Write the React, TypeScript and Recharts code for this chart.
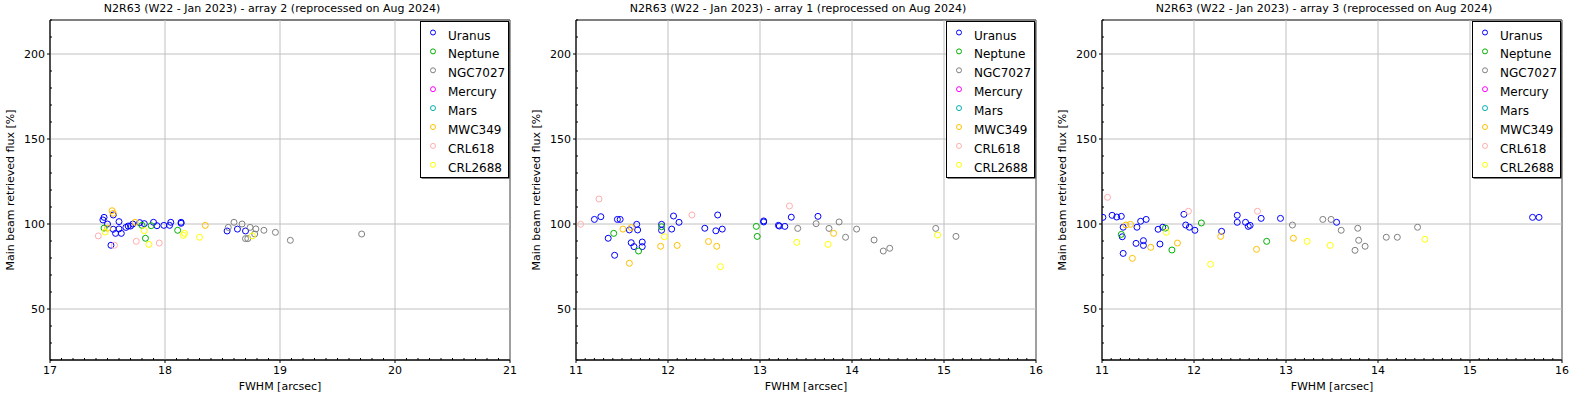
import React from 'react';
import { ScatterChart, Scatter, XAxis, YAxis, ReferenceLine, ReferenceArea } from 'recharts';

type P = [number, number];

const FONT = '"DejaVu Sans", Verdana, sans-serif';

const sourceNames = ['Uranus', 'Neptune', 'NGC7027', 'Mercury', 'Mars', 'MWC349', 'CRL618', 'CRL2688'];
const sourceColors = ['#0000ff', '#00b000', '#808080', '#ff00ff', '#00b0b0', '#ffc000', '#ffafaf', '#ffff00'];

const panelTitles = [
  'N2R63 (W22 - Jan 2023) - array 2 (reprocessed on Aug 2024)',
  'N2R63 (W22 - Jan 2023) - array 1 (reprocessed on Aug 2024)',
  'N2R63 (W22 - Jan 2023) - array 3 (reprocessed on Aug 2024)',
];

const xMajorA2 = [17, 18, 19, 20, 21];
const xMajorA1 = [11, 12, 13, 14, 15, 16];
const xMajorA3 = [11, 12, 13, 14, 15, 16];
const yMajor = [50, 100, 150, 200];
const yDomain: [number, number] = [20, 220];
const xLabel = 'FWHM [arcsec]';
const yLabel = 'Main beam retrieved flux [%]';

// ---- array 2 ----
const a2Uranus: P[] = [
  [17.47, 103.9], [17.46, 102.4], [17.55, 105.3], [17.5, 100.0], [17.6, 101.4], [17.55, 96.9],
  [17.57, 94.5], [17.6, 97.1], [17.62, 94.5], [17.66, 98.0], [17.68, 98.8], [17.7, 98.8],
  [17.72, 100.0], [17.78, 100.8], [17.82, 100.2], [17.9, 101.0], [17.93, 99.0], [17.99, 99.2],
  [18.04, 99.2], [18.05, 101.0], [18.14, 101.0], [18.14, 100.4], [18.54, 95.9], [18.63, 97.0],
  [18.7, 95.9], [17.53, 87.5],
];
const a2Neptune: P[] = [[17.47, 97.6], [17.8, 99.2], [17.88, 99.0], [18.11, 96.3], [17.83, 91.6]];
const a2NGC7027: P[] = [
  [18.55, 98.0], [18.6, 101.0], [18.67, 100.0], [18.74, 98.0], [18.79, 97.1], [18.86, 96.3],
  [18.96, 95.1], [19.09, 90.4], [18.7, 91.4], [18.72, 91.4], [18.78, 94.1], [19.71, 94.1],
];
const a2MWC349: P[] = [[17.54, 107.8], [17.55, 106.3], [17.74, 101.0], [18.35, 99.2], [17.5, 97.5]];
const a2CRL618: P[] = [[17.42, 93.0], [17.75, 89.8], [17.95, 88.8], [17.56, 87.5]];
const a2CRL2688: P[] = [
  [17.48, 95.3], [17.82, 96.1], [17.86, 88.0], [18.17, 94.5], [18.16, 93.3], [18.3, 92.2], [18.76, 93.0],
];

// ---- array 1 ----
const a1Uranus: P[] = [
  [11.2, 102.7], [11.27, 104.3], [11.35, 91.6], [11.42, 81.6], [11.45, 102.7], [11.48, 102.7],
  [11.58, 96.5], [11.6, 89.0], [11.63, 86.7], [11.66, 99.8], [11.67, 96.5], [11.72, 86.7],
  [11.72, 89.4], [11.93, 99.8], [11.93, 96.3], [12.04, 97.0], [12.06, 104.7], [12.12, 101.0],
  [12.4, 97.5], [12.52, 96.0], [12.54, 105.3], [12.59, 97.0], [13.04, 101.8], [13.04, 101.2],
  [13.2, 99.2], [13.21, 98.8], [13.27, 98.6], [13.34, 104.0], [13.63, 104.5],
];
const a1Neptune: P[] = [[11.41, 94.5], [11.68, 84.1], [11.93, 98.4], [12.96, 98.6], [12.97, 92.7]];
const a1NGC7027: P[] = [
  [13.41, 97.4], [13.61, 100.2], [13.75, 97.4], [13.86, 101.2], [13.93, 92.2], [14.05, 97.0],
  [14.24, 90.6], [14.34, 84.1], [14.41, 85.7], [14.91, 97.4], [15.13, 92.7],
];
const a1MWC349: P[] = [
  [11.51, 97.0], [11.58, 76.9], [11.6, 97.9], [11.92, 86.9], [12.1, 87.4], [12.44, 89.7],
  [12.53, 86.9], [13.8, 94.5],
];
const a1CRL618: P[] = [[11.05, 99.8], [11.25, 114.7], [12.26, 105.3], [13.32, 110.6]];
const a1CRL2688: P[] = [[11.96, 92.5], [12.57, 74.9], [13.4, 89.2], [13.74, 88.0], [14.93, 93.5]];

// ---- array 3 ----
const a3Uranus: P[] = [
  [11.01, 103.9], [11.11, 105.1], [11.16, 104.1], [11.21, 104.5], [11.23, 98.1], [11.22, 92.5],
  [11.23, 82.7], [11.37, 88.6], [11.38, 98.1], [11.42, 101.6], [11.45, 90.2], [11.45, 87.4],
  [11.48, 102.7], [11.61, 96.9], [11.63, 88.2], [11.66, 98.1], [11.89, 105.7], [11.91, 99.4],
  [11.95, 98.1], [12.01, 96.3], [12.3, 95.7], [12.47, 105.1], [12.47, 101.0], [12.56, 101.0],
  [12.59, 98.6], [12.61, 99.2], [12.73, 103.3], [12.94, 103.3], [13.55, 101.0], [15.68, 103.9],
  [15.75, 103.9],
];
const a3Neptune: P[] = [[11.21, 93.9], [11.69, 97.6], [11.76, 84.7], [12.08, 100.6], [12.79, 89.8]];
const a3NGC7027: P[] = [
  [13.07, 99.4], [13.4, 102.7], [13.49, 102.7], [13.6, 96.3], [13.78, 97.5], [13.79, 90.4],
  [13.75, 84.5], [13.86, 86.9], [14.09, 92.2], [14.21, 92.2], [14.43, 98.1],
];
const a3MWC349: P[] = [
  [11.26, 99.4], [11.31, 99.8], [11.33, 79.8], [11.53, 86.3], [11.82, 88.8], [12.29, 92.7],
  [12.68, 85.1], [13.08, 91.6],
];
const a3CRL618: P[] = [[11.06, 115.7], [11.94, 107.5], [12.69, 107.5]];
const a3CRL2688: P[] = [[11.7, 95.1], [12.18, 76.3], [13.23, 89.8], [13.48, 87.4], [14.51, 91.0]];

const panelSeries: P[][][] = [
  [a2Uranus, a2Neptune, a2NGC7027, [], [], a2MWC349, a2CRL618, a2CRL2688],
  [a1Uranus, a1Neptune, a1NGC7027, [], [], a1MWC349, a1CRL618, a1CRL2688],
  [a3Uranus, a3Neptune, a3NGC7027, [], [], a3MWC349, a3CRL618, a3CRL2688],
];
const panelXMajor = [xMajorA2, xMajorA1, xMajorA3];

const PANEL_W = 526;
const PANEL_H = 400;

function minorTicks(lo: number, hi: number, step: number): number[] {
  const n = Math.round((hi - lo) / step);
  const out: number[] = [];
  for (let i = 0; i <= n; i++) out.push(Math.round((lo + i * step) * 1000) / 1000);
  return out;
}

function isMajor(v: number, majors: number[]) {
  return majors.some((m) => Math.abs(m - v) < 1e-6);
}

const makeXTick = (majors: number[]) => (props: any) => {
  const { x, y, payload } = props;
  const v = payload.value;
  const maj = isMajor(v, majors);
  return (
    <g>
      <line x1={x} x2={x} y1={y} y2={maj ? y + 3 : y - 2} stroke="#000" strokeWidth={1} />
      {maj && (
        <text x={x} y={y + 14} textAnchor="middle" fontSize={11} fontFamily={FONT} fill="#000">
          {v}
        </text>
      )}
    </g>
  );
};

const YTick = (props: any) => {
  const { x, y, payload } = props;
  const v = payload.value;
  const maj = isMajor(v, yMajor);
  return (
    <g>
      <line x1={maj ? x - 3 : x} x2={maj ? x : x + 2} y1={y} y2={y} stroke="#000" strokeWidth={1} />
      {maj && (
        <text x={x - 5} y={y + 4} textAnchor="end" fontSize={11} fontFamily={FONT} fill="#000">
          {v}
        </text>
      )}
    </g>
  );
};

const circleShape = (color: string) => (props: any) => {
  const { cx, cy } = props;
  if (cx == null || cy == null) return <g />;
  return <circle cx={cx} cy={cy} r={3} fill="none" stroke={color} strokeWidth={1} />;
};

const XLabelContent = (props: any) => {
  const vb = props.viewBox || {};
  return (
    <text x={vb.x + vb.width / 2} y={vb.y + 30} textAnchor="middle" fontSize={11} fontFamily={FONT} fill="#000">
      {xLabel}
    </text>
  );
};

const YLabelContent = (props: any) => {
  const vb = props.viewBox || {};
  const cx = 10;
  const cy = vb.y + vb.height / 2;
  return (
    <text
      x={cx}
      y={cy}
      transform={`rotate(-90, ${cx}, ${cy})`}
      textAnchor="middle"
      dominantBaseline="central"
      fontSize={11}
      fontFamily={FONT}
      fill="#000"
    >
      {yLabel}
    </text>
  );
};

function Legend() {
  const rowH = 18.9;
  return (
    <svg
      width={92}
      height={160}
      style={{ position: 'absolute', left: 420, top: 21, overflow: 'visible' }}
    >
      <rect x={1.5} y={1.5} width={88} height={156} fill="#000" />
      <rect x={0.5} y={0.5} width={88} height={156} fill="#fff" stroke="#000" strokeWidth={1} />
      {sourceNames.map((n, i) => (
        <g key={n}>
          <circle cx={13} cy={11.5 + i * rowH} r={2.5} fill="none" stroke={sourceColors[i]} strokeWidth={1} />
          <text x={28} y={14.5 + i * rowH} dominantBaseline="central" fontSize={12} fontFamily={FONT} fill="#000">
            {n}
          </text>
        </g>
      ))}
    </svg>
  );
}

function Panel({ idx }: { idx: number }) {
  const majors = panelXMajor[idx];
  const xd: [number, number] = [majors[0], majors[majors.length - 1]];
  const xTicks = minorTicks(xd[0], xd[1], 0.1);
  const yTicks = minorTicks(yDomain[0], yDomain[1], 10);
  const series = panelSeries[idx];
  return (
    <div style={{ position: 'relative', width: PANEL_W, height: PANEL_H }}>
      <div
        style={{
          position: 'absolute',
          left: 18,
          top: 2,
          width: PANEL_W - 18,
          textAlign: 'center',
          fontSize: 11,
          fontFamily: FONT,
          lineHeight: '14px',
          color: '#000',
          whiteSpace: 'nowrap',
        }}
      >
        {panelTitles[idx]}
      </div>
      <ScatterChart width={PANEL_W} height={PANEL_H} margin={{ top: 20, right: 16, bottom: 0, left: 0 }}>
        {majors.map((v) => (
          <ReferenceLine key={'gx' + v} x={v} stroke="#c0c0c0" strokeWidth={1} />
        ))}
        {yMajor.map((v) => (
          <ReferenceLine key={'gy' + v} y={v} stroke="#c0c0c0" strokeWidth={1} />
        ))}
        <XAxis
          type="number"
          dataKey="x"
          domain={xd}
          ticks={xTicks}
          interval={0}
          tickLine={false}
          tickSize={0}
          tickMargin={0}
          height={40}
          axisLine={{ stroke: '#000' }}
          tick={makeXTick(majors)}
          label={<XLabelContent />}
          allowDataOverflow
        />
        <YAxis
          type="number"
          dataKey="y"
          domain={yDomain}
          ticks={yTicks}
          interval={0}
          tickLine={false}
          tickSize={0}
          tickMargin={0}
          width={50}
          axisLine={{ stroke: '#000' }}
          tick={YTick}
          label={<YLabelContent />}
          allowDataOverflow
        />
        <ReferenceArea x1={xd[0]} x2={xd[1]} y1={yDomain[0]} y2={yDomain[1]} fill="none" fillOpacity={0} stroke="#000" strokeWidth={1} />
        {series.map((pts, i) => (
          <Scatter
            key={sourceNames[i]}
            name={sourceNames[i]}
            data={pts.map(([x, y]) => ({ x, y }))}
            fill="none"
            stroke={sourceColors[i]}
            shape={circleShape(sourceColors[i])}
            isAnimationActive={false}
          />
        ))}
      </ScatterChart>
      <Legend />
    </div>
  );
}

export default function App() {
  return (
    <div
      style={{
        position: 'absolute',
        left: 0,
        top: 0,
        width: 1578,
        height: 400,
        display: 'flex',
        background: '#fff',
        fontFamily: FONT,
      }}
    >
      <Panel idx={0} />
      <Panel idx={1} />
      <Panel idx={2} />
    </div>
  );
}
